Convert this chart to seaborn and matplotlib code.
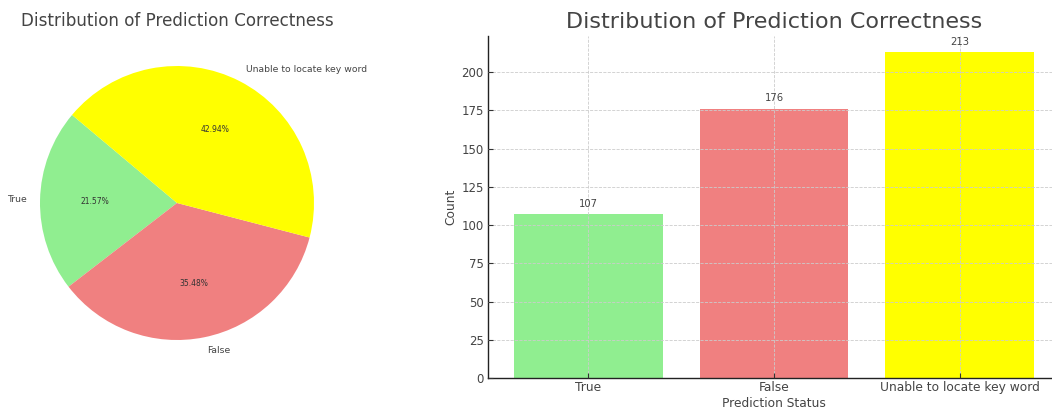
import matplotlib
matplotlib.use("Agg")
import matplotlib.pyplot as plt
from matplotlib.ticker import MultipleLocator
import pandas as pd
import seaborn as sns

# Prediction outcome counts
statuses = ["True", "False", "Unable to locate key word"]
counts = [107, 176, 213]
colors = ["lightgreen", "lightcoral", "yellow"]

sns.set_style("ticks")
plt.rcParams["font.family"] = ["DejaVu Sans"]
text_gray = "#444444"
plt.rcParams.update({
    "text.color": text_gray,
    "axes.labelcolor": text_gray,
    "xtick.color": "#333333",
    "ytick.color": "#333333",
    "xtick.labelcolor": text_gray,
    "ytick.labelcolor": text_gray,
})

W, H = 1052, 412
fig = plt.figure(figsize=(W / 100, H / 100), dpi=100)


def frame(x0, y0, x1, y1):
    """Axes rectangle from pixel box measured from the top-left corner."""
    return [x0 / W, 1 - y1 / H, (x1 - x0) / W, (y1 - y0) / H]


df = pd.DataFrame({"Prediction Status": statuses, "Count": counts})

# ---- Pie chart -------------------------------------------------------------
ax_pie = fig.add_axes(frame(5.75, 31.75, 348.25, 374.25))
wedges, texts, autotexts = ax_pie.pie(
    df["Count"], labels=df["Prediction Status"], colors=colors,
    autopct="%1.2f%%", startangle=140,
    wedgeprops={"linewidth": 0, "edgecolor": "none"},
    textprops={"fontsize": 6.7, "color": text_gray},
)
for t in autotexts:
    t.set_fontsize(5.5)
    t.set_color("#333333")
ax_pie.set_aspect("equal")
ax_pie.set_title("Distribution of Prediction Correctness", fontsize=12.1,
                 color=text_gray, pad=4)

# ---- Bar chart -------------------------------------------------------------
ax_bar = fig.add_axes(frame(488, 36, 1060, 378))
sns.barplot(data=df, x="Prediction Status", y="Count", hue="Prediction Status",
            palette=colors, legend=False, width=0.8, saturation=1,
            linewidth=0, edgecolor="none", ax=ax_bar)
for cont in ax_bar.containers:
    ax_bar.bar_label(cont, padding=4, fontsize=7.2, color=text_gray)
ax_bar.set_xlim(-0.54, 2.54)
ax_bar.set_ylim(0, 223.65)
ax_bar.yaxis.set_major_locator(MultipleLocator(25))
ax_bar.grid(True, linestyle="--", color="#cccccc", linewidth=0.6)
ax_bar.set_axisbelow(False)
ax_bar.tick_params(direction="in", length=3.5, width=0.8)
ax_bar.tick_params(axis="x", labelsize=8.8, pad=2.5)
ax_bar.tick_params(axis="y", labelsize=8.5, pad=3)
ax_bar.set_xlabel("Prediction Status", fontsize=8.8, labelpad=2)
ax_bar.set_ylabel("Count", fontsize=8.8, labelpad=3)
ax_bar.set_title("Distribution of Prediction Correctness", fontsize=16,
                 color=text_gray, pad=6)
sns.despine(ax=ax_bar)
for s in ("left", "bottom"):
    ax_bar.spines[s].set_color("#222222")
    ax_bar.spines[s].set_linewidth(1.0)

fig.savefig("out.png", dpi=100)
